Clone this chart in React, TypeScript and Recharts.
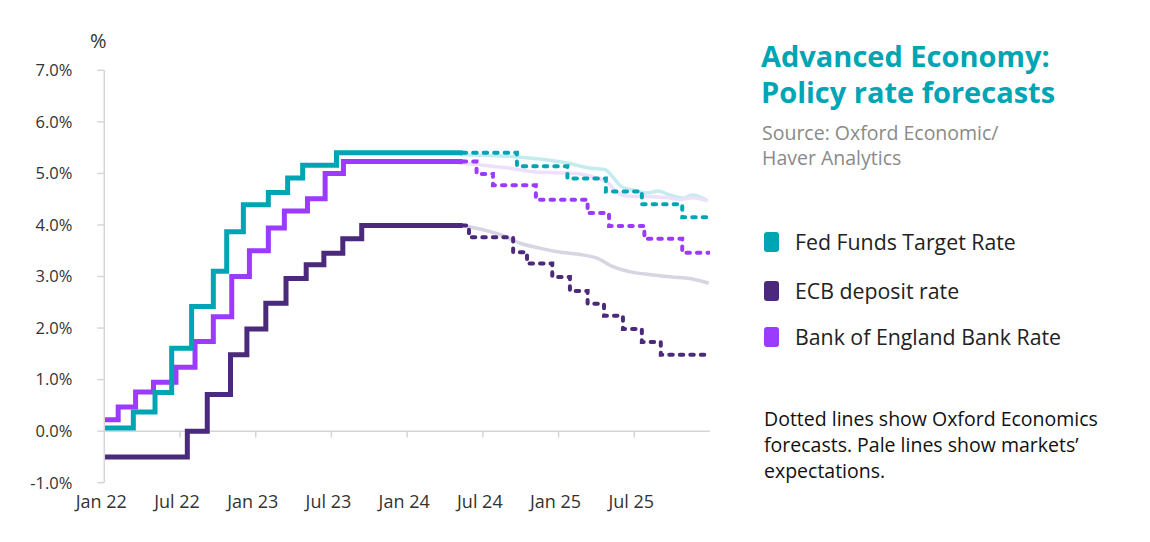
import React from 'react';
import { LineChart, Line, XAxis, YAxis, ReferenceLine } from 'recharts';

// x = months since Jan 2022, y = policy rate in %
const xTicks = [0, 6, 12, 18, 24, 30, 36, 42];
const xTickLabels = ['Jan 22', 'Jul 22', 'Jan 23', 'Jul 23', 'Jan 24', 'Jul 24', 'Jan 25', 'Jul 25'];
const yTicks = [-1, 0, 1, 2, 3, 4, 5, 6, 7];

// actual rates (step changes)
const fedActual = [
  [0, 0.06], [2.3, 0.37], [4.02, 0.75], [5.34, 1.61], [6.92, 2.42], [8.64, 3.1],
  [9.7, 3.87], [11.02, 4.39], [13.0, 4.63], [14.53, 4.91], [15.72, 5.16], [18.4, 5.4], [28.4, 5.4],
];
const ecbActual = [
  [0, -0.5], [6.58, 0.0], [8.16, 0.71], [10.0, 1.48], [11.3, 1.98], [12.8, 2.48], [14.4, 2.96],
  [16.0, 3.23], [17.4, 3.45], [18.9, 3.73], [20.4, 3.99], [28.4, 3.99],
];
const boeActual = [
  [0, 0.22], [1.1, 0.47], [2.48, 0.76], [3.9, 0.95], [5.68, 1.24], [7.19, 1.74], [8.64, 2.22],
  [10.1, 3.0], [11.5, 3.5], [13.0, 3.94], [14.27, 4.27], [16.1, 4.51], [17.5, 5.0], [18.95, 5.23], [28.4, 5.23],
];

// Oxford Economics forecasts (dotted)
const fedForecast = [
  [28.4, 5.4], [32.7, 5.14], [36.7, 4.9], [39.75, 4.65], [42.6, 4.4], [45.8, 4.15], [47.9, 4.15],
];
const ecbForecast = [
  [28.4, 3.99], [28.9, 3.76], [32.4, 3.47], [33.5, 3.25], [35.5, 2.99], [36.9, 2.72], [38.3, 2.47],
  [39.6, 2.24], [41.1, 1.98], [42.6, 1.73], [44.1, 1.48], [47.9, 1.48],
];
const boeForecast = [
  [28.4, 5.23], [29.5, 4.99], [30.8, 4.77], [34.2, 4.49], [38.3, 4.23], [40.0, 3.98], [42.8, 3.73], [45.8, 3.46], [47.9, 3.46],
];

// market expectations (pale)
const fedMarket = [
  [28.2, 5.36], [32.7, 5.32], [34.5, 5.28], [36.7, 5.2], [38.3, 5.11], [39.7, 5.07], [40.3, 4.93],
  [41.0, 4.74], [41.9, 4.68], [43.0, 4.62], [43.9, 4.66], [44.8, 4.58], [45.9, 4.52], [46.6, 4.58], [47.8, 4.47],
];
const boeMarket = [
  [28.0, 5.2], [30.0, 5.16], [31.9, 5.11], [34.0, 5.03], [36.1, 5.01], [37.7, 4.99], [38.7, 4.93],
  [39.8, 4.84], [40.6, 4.64], [41.4, 4.56], [43.0, 4.55], [44.6, 4.53], [45.6, 4.49], [46.6, 4.53], [47.8, 4.47],
];
const ecbMarket = [
  [28.6, 3.98], [29.0, 3.96], [31.4, 3.81], [32.9, 3.65], [34.5, 3.55], [35.9, 3.48], [37.9, 3.42],
  [39.0, 3.36], [40.3, 3.19], [41.7, 3.09], [43.5, 3.03], [45.0, 2.99], [46.6, 2.95], [47.9, 2.87],
];

const legendItems = [
  { label: 'Fed Funds Target Rate', color: '#00a5b4' },
  { label: 'ECB deposit rate', color: '#4b2a7b' },
  { label: 'Bank of England Bank Rate', color: '#9b3bff' },
];

const COLORS = {
  fed: '#00a5b4',
  ecb: '#4b2a7b',
  boe: '#9b3bff',
  fedPale: '#c4ebee',
  ecbPale: '#d8d4e2',
  boePale: '#eedffc',
  axis: '#d6d6d6',
};

const FONT = '"Open Sans", "DejaVu Sans", sans-serif';

const toPts = (arr: number[][]) => arr.map(([m, v]) => ({ m, v }));

export default function App() {
  const solid = { strokeWidth: 5, dot: false, isAnimationActive: false, type: 'stepAfter' as const };
  const dotted = {
    strokeWidth: 4,
    dot: false,
    isAnimationActive: false,
    type: 'stepAfter' as const,
    strokeDasharray: '3.5 7',
    strokeLinecap: 'round' as const,
  };
  const pale = { strokeWidth: 3.5, dot: false, isAnimationActive: false, type: 'monotone' as const };

  return (
    <div
      style={{
        position: 'absolute',
        left: 0,
        top: 0,
        width: 1150,
        height: 542,
        background: '#fff',
        fontFamily: FONT,
        overflow: 'hidden',
      }}
    >
      <div style={{ position: 'absolute', left: 90, top: 27, fontSize: 20, color: '#333' }}>%</div>

      <div style={{ position: 'absolute', left: 0, top: 0 }}>
        <LineChart width={730} height={542} margin={{ top: 70.3, right: 20, bottom: 19.3, left: 44.3 }}>
          <XAxis
            dataKey="m"
            type="number"
            domain={[0, 48]}
            ticks={xTicks}
            allowDataOverflow
            axisLine={false}
            tickLine={false}
            tickSize={0}
            tickMargin={13}
            height={40}
            tick={{ fill: '#333', fontSize: 18, fontFamily: FONT, dx: -3 }}
            tickFormatter={(v: number) => xTickLabels[xTicks.indexOf(v)] ?? ''}
          />
          <YAxis
            type="number"
            domain={[-1, 7]}
            ticks={yTicks}
            width={60}
            axisLine={{ stroke: COLORS.axis, strokeWidth: 1.5 }}
            tickLine={{ stroke: COLORS.axis, strokeWidth: 1.5 }}
            tickSize={7}
            tickMargin={25}
            tick={{ fill: '#333', fontSize: 16.5, fontFamily: FONT }}
            tickFormatter={(v: number) => `${v.toFixed(1)}%`}
          />

          <ReferenceLine y={0} stroke={COLORS.axis} strokeWidth={1.5} />
          {xTicks.slice(1).map((t) => (
            <ReferenceLine
              key={t}
              segment={[{ x: t, y: 0 }, { x: t, y: -0.125 }]}
              stroke={COLORS.axis}
              strokeWidth={1.5}
            />
          ))}

          {/* market expectations */}
          <Line data={toPts(fedMarket)} dataKey="v" stroke={COLORS.fedPale} {...pale} />
          <Line data={toPts(boeMarket)} dataKey="v" stroke={COLORS.boePale} {...pale} />
          <Line data={toPts(ecbMarket)} dataKey="v" stroke={COLORS.ecbPale} {...pale} />

          {/* forecasts */}
          <Line data={toPts(ecbForecast)} dataKey="v" stroke={COLORS.ecb} {...dotted} />
          <Line data={toPts(boeForecast)} dataKey="v" stroke={COLORS.boe} {...dotted} />
          <Line data={toPts(fedForecast)} dataKey="v" stroke={COLORS.fed} {...dotted} />

          {/* actual */}
          <Line data={toPts(ecbActual)} dataKey="v" stroke={COLORS.ecb} {...solid} />
          <Line data={toPts(boeActual)} dataKey="v" stroke={COLORS.boe} {...solid} />
          <Line data={toPts(fedActual)} dataKey="v" stroke={COLORS.fed} {...solid} />
        </LineChart>
      </div>

      <div
        style={{
          position: 'absolute',
          left: 761,
          top: 38,
          color: '#00a5b4',
          fontSize: 29,
          fontWeight: 700,
          lineHeight: '36px',
        }}
      >
        Advanced Economy:
        <br />
        Policy rate forecasts
      </div>
      <div
        style={{
          position: 'absolute',
          left: 762,
          top: 120,
          color: '#8a8a8a',
          fontSize: 19.5,
          lineHeight: '25px',
        }}
      >
        Source: Oxford Economic/
        <br />
        Haver Analytics
      </div>

      {legendItems.map((it, i) => (
        <div
          key={it.label}
          style={{
            position: 'absolute',
            left: 764,
            top: [231, 280, 326][i],
            height: 21,
            display: 'flex',
            alignItems: 'center',
          }}
        >
          <div style={{ width: 15, height: 20, borderRadius: 3, background: it.color }} />
          <div style={{ marginLeft: 16, fontSize: 21.3, color: '#222' }}>{it.label}</div>
        </div>
      ))}

      <div
        style={{
          position: 'absolute',
          left: 764,
          top: 406,
          width: 390,
          color: '#111',
          fontSize: 19.5,
          lineHeight: '26px',
        }}
      >
        Dotted lines show Oxford Economics
        <br />
        forecasts. Pale lines show markets’
        <br />
        expectations.
      </div>
    </div>
  );
}
